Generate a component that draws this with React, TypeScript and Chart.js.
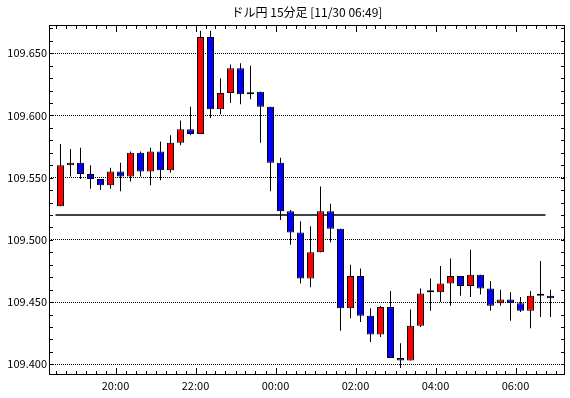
import React, { useEffect, useRef } from "react";
import { Chart, registerables } from "chart.js";

Chart.register(...registerables);

const titleText = "ドル円 15分足 [11/30 06:49]";

const candleTimes = [
  "18:30", "18:45", "19:00", "19:15", "19:30", "19:45", "20:00", "20:15", "20:30", "20:45",
  "21:00", "21:15", "21:30", "21:45", "22:00", "22:15", "22:30", "22:45", "23:00", "23:15",
  "23:30", "23:45", "00:00", "00:15", "00:30", "00:45", "01:00", "01:15", "01:30", "01:45",
  "02:00", "02:15", "02:30", "02:45", "03:00", "03:15", "03:30", "03:45", "04:00", "04:15",
  "04:30", "04:45", "05:00", "05:15", "05:30", "05:45", "06:00", "06:15", "06:30", "06:45",
];

const openValues = [
  109.527, 109.560, 109.562, 109.553, 109.549, 109.544, 109.555, 109.551, 109.570, 109.555,
  109.571, 109.556, 109.578, 109.589, 109.585, 109.663, 109.605, 109.618, 109.638, 109.617,
  109.619, 109.607, 109.562, 109.523, 109.506, 109.469, 109.490, 109.523, 109.509, 109.445,
  109.471, 109.439, 109.424, 109.446, 109.405, 109.403, 109.431, 109.458, 109.458, 109.465,
  109.471, 109.463, 109.472, 109.461, 109.449, 109.452, 109.449, 109.443, 109.455, 109.455,
];
const highValues = [
  109.577, 109.573, 109.574, 109.560, 109.549, 109.558, 109.562, 109.571, 109.571, 109.574,
  109.579, 109.584, 109.596, 109.607, 109.668, 109.668, 109.630, 109.641, 109.642, 109.640,
  109.619, 109.607, 109.566, 109.524, 109.515, 109.511, 109.543, 109.529, 109.509, 109.480,
  109.477, 109.445, 109.447, 109.459, 109.417, 109.444, 109.461, 109.469, 109.479, 109.485,
  109.471, 109.492, 109.472, 109.467, 109.460, 109.458, 109.454, 109.459, 109.483, 109.460,
];
const lowValues = [
  109.527, 109.551, 109.549, 109.541, 109.540, 109.541, 109.539, 109.547, 109.551, 109.544,
  109.548, 109.554, 109.576, 109.584, 109.585, 109.598, 109.601, 109.610, 109.609, 109.613,
  109.578, 109.539, 109.516, 109.496, 109.465, 109.462, 109.490, 109.498, 109.427, 109.437,
  109.434, 109.418, 109.422, 109.405, 109.397, 109.403, 109.430, 109.443, 109.450, 109.447,
  109.455, 109.454, 109.456, 109.443, 109.447, 109.435, 109.442, 109.429, 109.438, 109.438,
];
const closeValues = [
  109.560, 109.562, 109.553, 109.549, 109.544, 109.555, 109.551, 109.570, 109.555, 109.571,
  109.556, 109.578, 109.589, 109.585, 109.663, 109.605, 109.618, 109.638, 109.617, 109.617,
  109.607, 109.562, 109.523, 109.506, 109.469, 109.490, 109.523, 109.509, 109.445, 109.471,
  109.439, 109.424, 109.446, 109.405, 109.403, 109.431, 109.457, 109.458, 109.465, 109.471,
  109.463, 109.472, 109.461, 109.447, 109.452, 109.449, 109.443, 109.455, 109.455, 109.453,
];

const refLineValue = 109.52;
const refLineFrom = "18:30";
const refLineTo = "06:45";

const yTickValues = [109.4, 109.45, 109.5, 109.55, 109.6, 109.65];
const xTickLabels = ["20:00", "22:00", "00:00", "02:00", "04:00", "06:00"];

const Y_MIN = 109.3914;
const Y_MAX = 109.6727;
const X_MIN = -1.15;
const X_MAX = 50.45;

const FONT = "'Noto Sans CJK JP', 'Noto Sans', sans-serif";

// boundary index of a time (left edge of that candle)
const edgeIndex = (t: string) => candleTimes.indexOf(t) - 0.5;

const xTickPositions = xTickLabels.map(edgeIndex);

const framePlugin = {
  id: "framePlugin",
  afterDatasetsDraw(chart: any) {
    const { ctx, chartArea } = chart;
    const { left, right, top, bottom } = chartArea;
    const xs = chart.scales.x;
    const ys = chart.scales.y;
    ctx.save();
    ctx.strokeStyle = "#000";
    ctx.lineWidth = 1;
    ctx.beginPath();
    // y minor ticks (every 0.01), inward on left & right
    for (let k = 0; k <= 30; k++) {
      const v = 109.39 + k * 0.01;
      if (v < Y_MIN || v > Y_MAX) continue;
      const py = Math.round(ys.getPixelForValue(v)) + 0.5;
      ctx.moveTo(left, py);
      ctx.lineTo(left + 4, py);
      ctx.moveTo(right - 4, py);
      ctx.lineTo(right, py);
    }
    // x ticks at every candle boundary, inward on top & bottom
    for (let k = -2; k <= candleTimes.length + 1; k++) {
      const v = k + 0.5;
      if (v < X_MIN || v > X_MAX) continue;
      const px = Math.round(xs.getPixelForValue(v)) + 0.5;
      const major = xTickPositions.some((p) => Math.abs(p - v) < 1e-6);
      const len = major ? 7 : 4;
      ctx.moveTo(px, top);
      ctx.lineTo(px, top + len);
      ctx.moveTo(px, bottom);
      ctx.lineTo(px, bottom - len);
    }
    ctx.stroke();
    ctx.strokeRect(left + 0.5, top + 0.5, right - left - 1, bottom - top - 1);
    // title centered over the plot area
    ctx.fillStyle = "#000";
    ctx.font = `12px ${FONT}`;
    ctx.textAlign = "center";
    ctx.textBaseline = "middle";
    ctx.fillText(titleText, (left + right) / 2, 12.5);
    ctx.restore();
  },
};

export default function App() {
  const canvasRef = useRef<HTMLCanvasElement | null>(null);

  useEffect(() => {
    const canvas = canvasRef.current;
    if (!canvas) return;

    const bodyColors = openValues.map((o, i) =>
      closeValues[i] > o ? "#ff0000" : closeValues[i] < o ? "#0000ff" : "#000000"
    );

    const chart = new Chart(canvas, {
      type: "bar",
      data: {
        datasets: [
          {
            type: "line",
            data: [
              { x: edgeIndex(refLineFrom), y: refLineValue },
              { x: edgeIndex(refLineTo), y: refLineValue },
            ],
            borderColor: "#000",
            borderWidth: 1.3,
            pointRadius: 0,
            order: 3,
          } as any,
          {
            type: "bar",
            data: candleTimes.map((_, i) => ({ x: i, y: [lowValues[i], highValues[i]] })),
            backgroundColor: "#000",
            borderWidth: 0,
            barThickness: 1,
            grouped: false,
            inflateAmount: 0,
            order: 2,
          } as any,
          {
            type: "bar",
            data: candleTimes.map((_, i) => ({ x: i, y: [openValues[i], closeValues[i]] })),
            backgroundColor: bodyColors,
            borderColor: "#000",
            borderWidth: 1,
            borderSkipped: false,
            barThickness: 7,
            minBarLength: 2,
            grouped: false,
            inflateAmount: 0,
            order: 1,
          } as any,
        ],
      },
      options: {
        responsive: false,
        animation: false,
        events: [],
        layout: { padding: { top: 25, right: 5, left: 0, bottom: 0 } },
        plugins: {
          legend: { display: false },
          tooltip: { enabled: false },
          title: { display: false },
        },
        scales: {
          x: {
            type: "linear",
            min: X_MIN,
            max: X_MAX,
            offset: false,
            grid: { display: false, drawTicks: false },
            border: { display: false },
            afterBuildTicks: (scale: any) => {
              scale.ticks = xTickPositions.map((v) => ({ value: v }));
            },
            afterFit: (scale: any) => {
              scale.height = 23;
            },
            ticks: {
              color: "#000",
              padding: 4,
              maxRotation: 0,
              autoSkip: false,
              font: { family: FONT, size: 11 },
              callback: (v: any) => {
                const i = xTickPositions.findIndex((p) => Math.abs(p - Number(v)) < 1e-6);
                return i >= 0 ? xTickLabels[i] : "";
              },
            },
          },
          y: {
            type: "linear",
            min: Y_MIN,
            max: Y_MAX,
            grid: { color: "#000", lineWidth: 1, drawTicks: false },
            border: { display: false, dash: [1, 1] },
            afterBuildTicks: (scale: any) => {
              scale.ticks = yTickValues.map((v) => ({ value: v }));
            },
            afterFit: (scale: any) => {
              scale.width = 49;
            },
            ticks: {
              color: "#000",
              padding: 2,
              font: { family: FONT, size: 11 },
              callback: (v: any) => Number(v).toFixed(3),
            },
          },
        },
      },
      plugins: [framePlugin],
    } as any);

    return () => chart.destroy();
  }, []);

  return (
    <div style={{ position: "absolute", left: 0, top: 0, width: 570, height: 398, background: "#fff" }}>
      <canvas ref={canvasRef} width={570} height={398} style={{ width: 570, height: 398, display: "block" }} />
    </div>
  );
}
